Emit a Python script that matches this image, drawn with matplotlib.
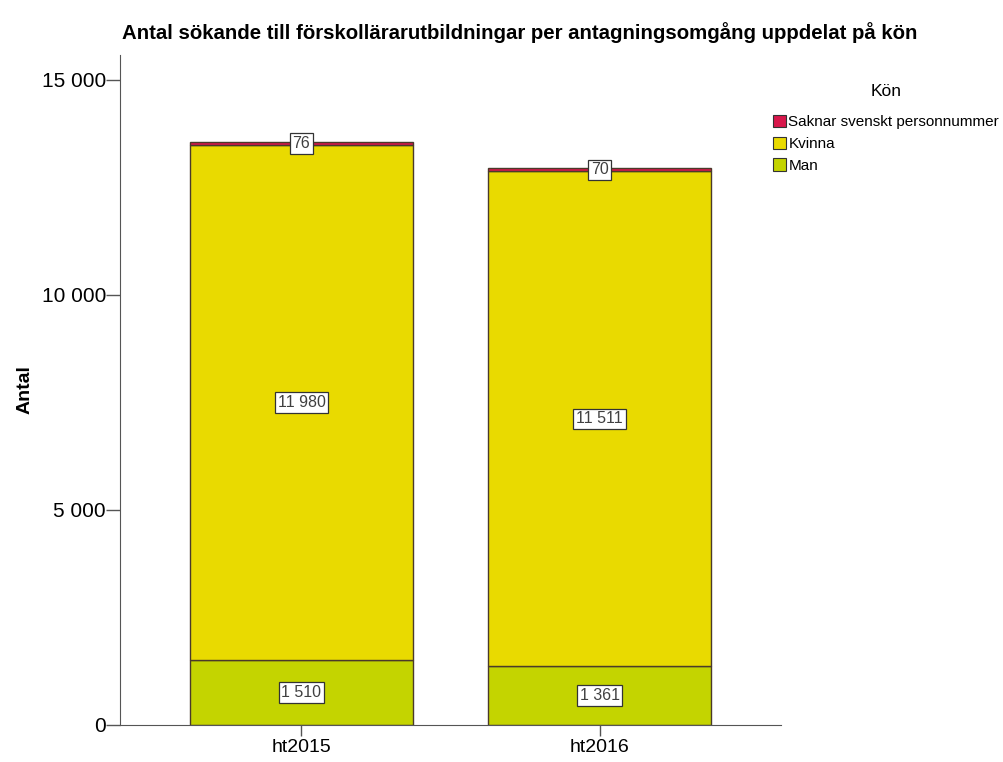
import numpy as np
import matplotlib
matplotlib.use('Agg')
import matplotlib.pyplot as plt
from matplotlib.patches import Patch

plt.rcParams['font.family'] = ['Liberation Sans', 'DejaVu Sans']

# --- data ---
omgang = ['ht2015', 'ht2016']
man = [1510, 1361]
kvinna = [11980, 11511]
saknar = [76, 70]

series_names = ['Man', 'Kvinna', 'Saknar svenskt personnummer']
series_colors = ['#c4d400', '#e9da00', '#d8174b']
yticks = [0, 5000, 10000, 15000]
ytick_labels = ['0', '5 000', '10 000', '15 000']


def fmt(v):
    return f'{v:,}'.replace(',', ' ')


fig = plt.figure(figsize=(10.04, 7.62), dpi=100)
ax = fig.add_axes([120 / 1004, 1 - 725 / 762, 661 / 1004, 670 / 762])

x = np.arange(len(omgang))
bottom = np.zeros(len(omgang))
for vals, name, col in zip([man, kvinna, saknar], series_names, series_colors):
    ax.bar(x, vals, width=0.75, bottom=bottom, color=col, edgecolor='#4a3a2a',
           linewidth=1.0, label=name, zorder=2)
    for xi, b, v in zip(x, bottom, vals):
        ax.text(xi, b + v / 2, fmt(v), ha='center', va='center', fontsize=11.5,
                color='#404040', zorder=4,
                bbox=dict(boxstyle='square,pad=0.18', fc='white', ec='#333333', lw=0.9))
    bottom += np.array(vals)

ax.set_xlim(-0.609, 1.609)
ax.set_ylim(0, 15580)
ax.set_xticks(x)
ax.set_xticklabels(omgang, fontsize=14)
ax.set_yticks(yticks)
ax.set_yticklabels(ytick_labels, fontsize=15)
ax.tick_params(axis='y', length=10, width=1, color='#555555', pad=0)
ax.tick_params(axis='x', length=8, width=1, color='#555555', pad=2)
for s in ['top', 'right']:
    ax.spines[s].set_visible(False)
for s in ['left', 'bottom']:
    ax.spines[s].set_color('#555555')
ax.set_ylabel('Antal', fontsize=14, fontweight='bold', labelpad=6)

fig.text(519.5 / 1004, 1 - 33 / 762, 'Antal sökande till förskollärarutbildningar per antagningsomgång uppdelat på kön',
         ha='center', va='center', fontsize=14.7, fontweight='bold')

# legend, reversed order like the reference
fig.text(886 / 1004, 1 - 92 / 762, 'Kön', ha='center', va='center', fontsize=12.5)
handles = [Patch(facecolor=c, edgecolor='#333333', lw=0.8, label=n)
           for n, c in zip(series_names, series_colors)][::-1]
leg = fig.legend(handles=handles, loc='upper left', bbox_to_anchor=(773 / 1004, 1 - 115 / 762),
                 fontsize=11, frameon=False,
                 handlelength=0.85, handleheight=0.85, handletextpad=0.15, labelspacing=0.48,
                 borderaxespad=0, borderpad=0)

fig.savefig('out.png', dpi=100)
